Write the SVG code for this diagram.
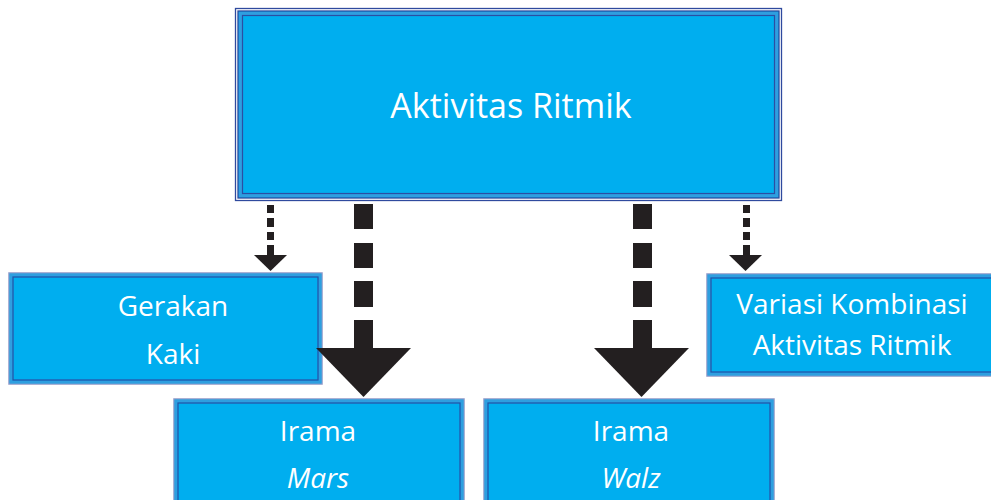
<svg xmlns="http://www.w3.org/2000/svg" width="991" height="500" viewBox="0 0 991 500">
<style>
.fill{fill:#00aeef}
.band{fill:none;stroke:#2e9fe0;stroke-width:3}
.dk{fill:none;stroke:#2b4ea3;stroke-width:1.2}
.outer{fill:none;stroke:#8f98c8;stroke-width:1.5}
.outerT{fill:none;stroke:#2f4a9e;stroke-width:1.3}
.t{font-family:"Open Sans","Noto Sans",sans-serif;fill:#fff;text-anchor:middle}
.arr{fill:#231f20}
</style>
<rect width="991" height="500" fill="#fff"/>
<g id="top">
<rect x="235.5" y="8.5" width="546" height="192" class="outerT"/>
<rect x="238" y="11" width="541" height="187" class="fill"/>
<rect x="238" y="11" width="541" height="187" class="outerT"/>
<rect x="240.5" y="13.5" width="536" height="182" class="band"/>
<rect x="242.5" y="15.5" width="532" height="178" class="dk"/>
<text x="511" y="118" class="t" font-size="34">Aktivitas Ritmik</text>
</g>
<g id="gerakan">
<rect x="9" y="273" width="313" height="111" class="fill"/>
<rect x="9" y="273" width="313" height="111" class="outer"/>
<rect x="11" y="275" width="309" height="107" class="band"/>
<rect x="13" y="277" width="305" height="103" class="dk"/>
<text x="173" y="316" class="t" font-size="28">Gerakan</text>
<text x="173" y="364" class="t" font-size="28">Kaki</text>
</g>
<g id="mars">
<rect x="174" y="399" width="290" height="110" class="fill"/>
<rect x="174" y="399" width="290" height="110" class="outer"/>
<rect x="176" y="401" width="286" height="106" class="band"/>
<rect x="178" y="403" width="282" height="102" class="dk"/>
<text x="318" y="441" class="t" font-size="28">Irama</text>
<text x="318" y="488" class="t" font-size="28" font-style="italic">Mars</text>
</g>
<g id="walz">
<rect x="484" y="399" width="290" height="110" class="fill"/>
<rect x="484" y="399" width="290" height="110" class="outer"/>
<rect x="486" y="401" width="286" height="106" class="band"/>
<rect x="488" y="403" width="282" height="102" class="dk"/>
<text x="631" y="441" class="t" font-size="28">Irama</text>
<text x="631" y="488" class="t" font-size="28" font-style="italic">Walz</text>
</g>
<g id="variasi">
<rect x="707" y="274" width="300" height="102" class="fill"/>
<rect x="707" y="274" width="300" height="102" class="outer"/>
<rect x="709" y="276" width="300" height="98" class="band"/>
<rect x="711" y="278" width="300" height="94" class="dk"/>
<text x="852" y="314" class="t" font-size="28">Variasi Kombinasi</text>
<text x="852" y="355" class="t" font-size="28">Aktivitas Ritmik</text>
</g>
<g id="connectors">
<g class="arr">
<rect x="267" y="205" width="7" height="8"/>
<rect x="267" y="218" width="7" height="9"/>
<rect x="267" y="232" width="7" height="8"/>
<rect x="267" y="245" width="7" height="11"/>
<polygon points="254,255 287,255 270.5,271"/>
<rect x="743" y="205" width="7" height="8"/>
<rect x="743" y="218" width="7" height="9"/>
<rect x="743" y="232" width="7" height="8"/>
<rect x="743" y="245" width="7" height="11"/>
<polygon points="729,255 762,255 745.5,271"/>
<rect x="354" y="204" width="19" height="25"/>
<rect x="354" y="243" width="19" height="25"/>
<rect x="354" y="281" width="19" height="26"/>
<rect x="354" y="320" width="19" height="29"/>
<polygon points="316,348 411,348 363.5,397"/>
<rect x="633" y="204" width="19" height="25"/>
<rect x="633" y="243" width="19" height="25"/>
<rect x="633" y="281" width="19" height="26"/>
<rect x="633" y="320" width="19" height="29"/>
<polygon points="594,348 689,348 641.5,397"/>
</g>
</g>
</svg>
